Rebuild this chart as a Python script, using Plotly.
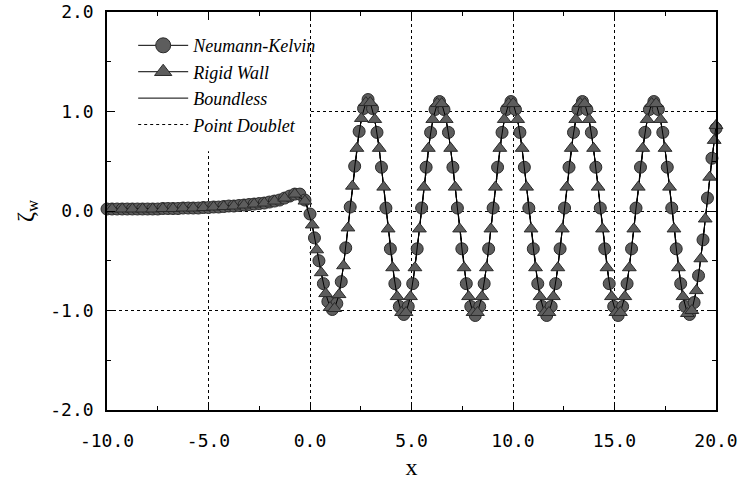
import plotly.graph_objects as go

# ---------------- data ----------------
# Neumann-Kelvin (circles)
nk_x_up = [-10.0, -9.75, -9.5, -9.25, -9.0, -8.75, -8.5, -8.25, -8.0, -7.75,
           -7.5, -7.25, -7.0, -6.75, -6.5, -6.25, -6.0, -5.75, -5.5, -5.25,
           -5.0, -4.75, -4.5, -4.25, -4.0, -3.75, -3.5, -3.25, -3.0, -2.75,
           -2.5, -2.25, -2.0, -1.75, -1.5, -1.25, -1.0, -0.75, -0.5, -0.25]
nk_y_up = [0.02, 0.02, 0.02, 0.02, 0.02, 0.02, 0.02, 0.02, 0.02, 0.02,
           0.02, 0.025, 0.025, 0.025, 0.025, 0.03, 0.03, 0.03, 0.03, 0.035,
           0.035, 0.04, 0.04, 0.045, 0.05, 0.05, 0.055, 0.06, 0.065, 0.07,
           0.075, 0.08, 0.09, 0.10, 0.11, 0.13, 0.15, 0.17, 0.17, 0.11]
nk_x_dn = [0.00, 0.22, 0.44, 0.66, 0.88, 1.10, 1.32, 1.54, 1.76, 1.98,
           2.20, 2.42, 2.64, 2.86, 3.08, 3.30, 3.52, 3.74, 3.96, 4.18,
           4.40, 4.62, 4.84, 5.06, 5.28, 5.50, 5.72, 5.94, 6.16, 6.38,
           6.60, 6.82, 7.04, 7.26, 7.48, 7.70, 7.92, 8.14, 8.36, 8.58,
           8.80, 9.02, 9.24, 9.46, 9.68, 9.90, 10.12, 10.34, 10.56, 10.78,
           11.00, 11.22, 11.44, 11.66, 11.88, 12.10, 12.32, 12.54, 12.76, 12.98,
           13.20, 13.42, 13.64, 13.86, 14.08, 14.30, 14.52, 14.74, 14.96, 15.18,
           15.40, 15.62, 15.84, 16.06, 16.28, 16.50, 16.72, 16.94, 17.16, 17.38,
           17.60, 17.82, 18.04, 18.26, 18.48, 18.70, 18.92, 19.14, 19.36, 19.58,
           19.80, 20.00]
nk_y_dn = [-0.03, -0.27, -0.50, -0.73, -0.91, -0.99, -0.93, -0.71, -0.37, 0.04,
           0.45, 0.80, 1.03, 1.12, 1.03, 0.79, 0.44, 0.03, -0.38, -0.73,
           -0.96, -1.04, -0.96, -0.73, -0.38, 0.03, 0.44, 0.79, 1.02, 1.10,
           1.02, 0.79, 0.44, 0.03, -0.38, -0.73, -0.96, -1.05, -0.96, -0.73,
           -0.38, 0.03, 0.44, 0.79, 1.02, 1.10, 1.02, 0.79, 0.44, 0.03,
           -0.38, -0.73, -0.96, -1.05, -0.96, -0.73, -0.38, 0.03, 0.44, 0.79,
           1.02, 1.10, 1.02, 0.79, 0.44, 0.03, -0.38, -0.73, -0.96, -1.05,
           -0.96, -0.73, -0.38, 0.03, 0.44, 0.79, 1.02, 1.10, 1.02, 0.79,
           0.44, 0.03, -0.38, -0.73, -0.96, -1.04, -0.92, -0.65, -0.29, 0.13,
           0.53, 0.83]

# Rigid Wall (triangles)
rw_x_up = [-9.75, -9.25, -8.75, -8.25, -7.75, -7.25, -6.75, -6.25, -5.75, -5.25,
           -4.75, -4.25, -3.75, -3.25, -2.75, -2.25, -1.75, -1.25, -0.75, -0.25]
rw_y_up = [0.02, 0.02, 0.02, 0.02, 0.02, 0.025, 0.025, 0.03, 0.03, 0.035,
           0.04, 0.045, 0.05, 0.06, 0.07, 0.08, 0.10, 0.13, 0.17, 0.10]
rw_x_dn = [0.11, 0.33, 0.55, 0.77, 0.99, 1.21, 1.43, 1.65, 1.87, 2.09,
           2.31, 2.53, 2.75, 2.97, 3.19, 3.41, 3.63, 3.85, 4.07, 4.29,
           4.51, 4.73, 4.95, 5.17, 5.39, 5.61, 5.83, 6.05, 6.27, 6.49,
           6.71, 6.93, 7.15, 7.37, 7.59, 7.81, 8.03, 8.25, 8.47, 8.69,
           8.91, 9.13, 9.35, 9.57, 9.79, 10.01, 10.23, 10.45, 10.67, 10.89,
           11.11, 11.33, 11.55, 11.77, 11.99, 12.21, 12.43, 12.65, 12.87, 13.09,
           13.31, 13.53, 13.75, 13.97, 14.19, 14.41, 14.63, 14.85, 15.07, 15.29,
           15.51, 15.73, 15.95, 16.17, 16.39, 16.61, 16.83, 17.05, 17.27, 17.49,
           17.71, 17.93, 18.15, 18.37, 18.59, 18.81, 19.03, 19.25, 19.47, 19.69,
           19.91, 20.00]
rw_y_dn = [-0.14, -0.39, -0.62, -0.83, -0.97, -0.98, -0.84, -0.55, -0.17, 0.25,
           0.63, 0.93, 1.09, 1.09, 0.92, 0.63, 0.24, -0.18, -0.57, -0.86,
           -1.02, -1.02, -0.86, -0.57, -0.18, 0.24, 0.63, 0.92, 1.08, 1.08,
           0.92, 0.63, 0.24, -0.18, -0.57, -0.86, -1.02, -1.02, -0.86, -0.57,
           -0.18, 0.24, 0.63, 0.92, 1.08, 1.08, 0.92, 0.63, 0.24, -0.18,
           -0.57, -0.86, -1.02, -1.02, -0.86, -0.57, -0.18, 0.24, 0.63, 0.92,
           1.08, 1.08, 0.92, 0.63, 0.24, -0.18, -0.57, -0.86, -1.02, -1.02,
           -0.86, -0.57, -0.18, 0.24, 0.63, 0.92, 1.08, 1.08, 0.92, 0.63,
           0.24, -0.18, -0.57, -0.86, -1.03, -1.00, -0.80, -0.48, -0.08, 0.34,
           0.71, 0.86]

# Boundless (solid) and Point Doublet (dotted) lie on top of the same curve
bl_x = nk_x_up + nk_x_dn
bl_y = nk_y_up + nk_y_dn
pd_x = nk_x_dn
pd_y = nk_y_dn

x_ticks = [-10, -5, 0, 5, 10, 15, 20]
x_labels = ["-10.0", "-5.0", "0.0", "5.0", "10.0", "15.0", "20.0"]
y_ticks = [-2, -1, 0, 1, 2]
y_labels = ["-2.0", "-1.0", "0.0", "1.0", "2.0"]

MFILL = "#5d5d5d"
MLINE = "#2a2a2a"

fig = go.Figure()
fig.add_trace(go.Scatter(x=bl_x, y=bl_y, mode="lines", name="<i>Boundless</i>",
                         line=dict(color="black", width=1), legendrank=3))
fig.add_trace(go.Scatter(x=pd_x, y=pd_y, mode="lines", name="<i>Point Doublet</i>",
                         line=dict(color="black", width=1, dash="dot"), legendrank=4))
fig.add_trace(go.Scatter(x=nk_x_up + nk_x_dn, y=nk_y_up + nk_y_dn, mode="lines+markers",
                         name="<i>Neumann-Kelvin</i>", cliponaxis=False, showlegend=False,
                         line=dict(color="black", width=1),
                         marker=dict(symbol="circle", size=12, color=MFILL,
                                     line=dict(color=MLINE, width=1))))
fig.add_trace(go.Scatter(x=rw_x_up + rw_x_dn, y=rw_y_up + rw_y_dn, mode="lines+markers",
                         name="<i>Rigid Wall</i>", cliponaxis=False, showlegend=False,
                         line=dict(color="black", width=1),
                         marker=dict(symbol="triangle-up", size=12, color=MFILL,
                                     line=dict(color=MLINE, width=1))))
# legend entries (larger symbols, as in the printed key)
fig.add_trace(go.Scatter(x=[None], y=[None], mode="lines+markers", name="<i>Neumann-Kelvin</i>",
                         line=dict(color="black", width=1),
                         marker=dict(symbol="circle", size=15, color=MFILL,
                                     line=dict(color=MLINE, width=1)), legendrank=1))
fig.add_trace(go.Scatter(x=[None], y=[None], mode="lines+markers", name="<i>Rigid Wall</i>",
                         line=dict(color="black", width=1),
                         marker=dict(symbol="triangle-up", size=15, color=MFILL,
                                     line=dict(color=MLINE, width=1)), legendrank=2))

# white patch behind the legend (hides grid there)
fig.add_shape(type="rect", xref="x", yref="y", x0=-10, x1=0, y0=0.6, y1=2,
              fillcolor="white", line=dict(width=0), layer="between")

tickfont = dict(family="DejaVu Sans Mono", size=18, color="black")
axis_common = dict(showline=True, linecolor="black", linewidth=1.5, mirror="allticks",
                   ticks="inside", ticklen=8, tickwidth=1, tickcolor="black",
                   showgrid=True, gridcolor="black", gridwidth=1, griddash="dot",
                   zeroline=False, tickfont=tickfont, automargin=False)

fig.update_layout(
    width=745, height=482,
    margin=dict(l=107, r=29, t=12, b=72),
    paper_bgcolor="white", plot_bgcolor="white",
    showlegend=True,
    legend=dict(x=0.043, y=0.962, xanchor="left", yanchor="top",
                bgcolor="rgba(0,0,0,0)", borderwidth=0,
                font=dict(family="Liberation Serif", size=18, color="black"),
                itemwidth=50, tracegroupgap=0, itemsizing="trace"),
    xaxis=dict(range=[-10, 20], tickvals=x_ticks, ticktext=x_labels,
               minor=dict(ticks="inside", dtick=2.5, tick0=0, ticklen=4,
                          tickcolor="black", showgrid=False),
               ticklabelstandoff=14,
               title=dict(text="x", font=dict(family="Liberation Serif", size=24, color="black"),
                          standoff=8),
               **axis_common),
    yaxis=dict(range=[-2, 2], tickvals=y_ticks, ticktext=y_labels,
               minor=dict(ticks="inside", dtick=0.5, tick0=0, ticklen=4,
                          tickcolor="black", showgrid=False),
               ticklabelstandoff=8,
               title=dict(text="ζ<sub>w</sub>", font=dict(family="Liberation Serif", size=24, color="black"),
                          standoff=10),
               **axis_common),
)

fig.write_html("out.html")
